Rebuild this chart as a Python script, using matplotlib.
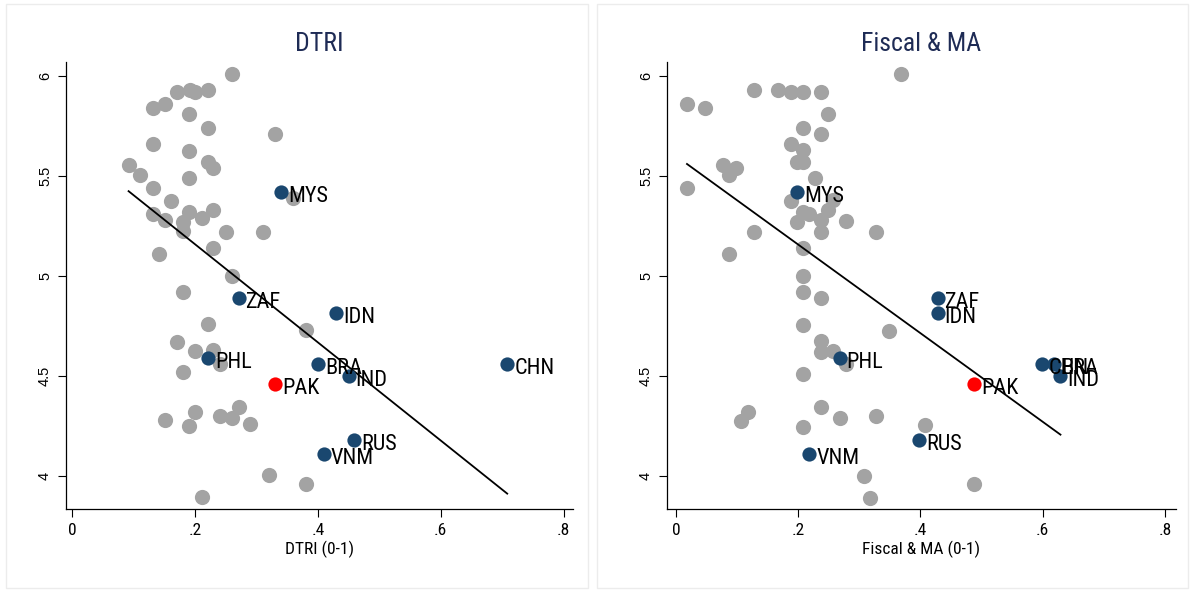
import numpy as np
import matplotlib
matplotlib.use("Agg")
import matplotlib.pyplot as plt
from matplotlib import font_manager as fm
from matplotlib.patches import Rectangle

# look for a narrow face, the Stata export uses Arial Narrow
_names = {f.name for f in fm.fontManager.ttflist}
_narrow = [n for n in ["Liberation Sans Narrow", "Roboto Condensed",
                       "Open Sans Condensed", "Noto Sans Condensed",
                       "DejaVu Sans Condensed"] if n in _names]
_cond_dejavu = any(f.name == "DejaVu Sans" and "ondensed" in f.fname
                   for f in fm.fontManager.ttflist)
if _narrow:
    NARROW = dict(family=[_narrow[0], "DejaVu Sans"])
elif _cond_dejavu:
    NARROW = dict(family=["DejaVu Sans"], stretch="condensed")
else:
    NARROW = dict(family=["Liberation Sans", "DejaVu Sans"])
REGULAR = dict(family=["Liberation Sans", "DejaVu Sans"])

# --- DTRI panel: grey countries
dtri_x = [0.260, 0.171, 0.192, 0.200, 0.221, 0.131, 0.151, 0.191, 0.221, 0.330,
          0.131, 0.191, 0.092, 0.111, 0.221, 0.230, 0.191, 0.131, 0.360, 0.161,
          0.131, 0.151, 0.191, 0.181, 0.181, 0.211, 0.230, 0.250, 0.310, 0.230,
          0.141, 0.260, 0.181, 0.221, 0.380, 0.171, 0.200, 0.230, 0.241, 0.181,
          0.151, 0.200, 0.191, 0.241, 0.260, 0.271, 0.290, 0.320, 0.380, 0.211]
dtri_y = [6.01, 5.92, 5.93, 5.92, 5.93, 5.84, 5.86, 5.81, 5.74, 5.71,
          5.66, 5.625, 5.555, 5.505, 5.57, 5.54, 5.49, 5.44, 5.39, 5.375,
          5.31, 5.28, 5.32, 5.27, 5.225, 5.29, 5.33, 5.22, 5.22, 5.14,
          5.11, 5.00, 4.92, 4.76, 4.73, 4.67, 4.625, 4.63, 4.56, 4.52,
          4.28, 4.32, 4.25, 4.30, 4.29, 4.345, 4.26, 4.005, 3.96, 3.895]

# --- Fiscal & MA panel: grey countries
fis_x = [0.368, 0.018, 0.047, 0.128, 0.167, 0.188, 0.207, 0.238, 0.248, 0.207,
         0.238, 0.188, 0.207, 0.198, 0.207, 0.077, 0.098, 0.087, 0.227, 0.018,
         0.188, 0.207, 0.218, 0.248, 0.238, 0.257, 0.198, 0.238, 0.278, 0.328,
         0.128, 0.207, 0.087, 0.207, 0.207, 0.238, 0.207, 0.348, 0.238, 0.238,
         0.257, 0.278, 0.207, 0.117, 0.107, 0.238, 0.268, 0.328, 0.207, 0.408,
         0.308, 0.318, 0.488]
fis_y = [6.01, 5.86, 5.84, 5.93, 5.93, 5.92, 5.92, 5.92, 5.81, 5.74,
         5.71, 5.66, 5.63, 5.57, 5.57, 5.555, 5.54, 5.505, 5.49, 5.44,
         5.375, 5.32, 5.31, 5.33, 5.28, 5.38, 5.27, 5.22, 5.275, 5.22,
         5.22, 5.14, 5.11, 5.00, 4.92, 4.89, 4.755, 4.725, 4.675, 4.62,
         4.625, 4.56, 4.51, 4.32, 4.275, 4.345, 4.29, 4.30, 4.245, 4.255,
         4.00, 3.89, 3.96]

# --- labelled countries
lab_names = ["MYS", "ZAF", "IDN", "PHL", "BRA", "IND", "CHN", "RUS", "VNM"]
lab_y = [5.42, 4.89, 4.815, 4.59, 4.56, 4.50, 4.56, 4.18, 4.11]
lab_dtri = [0.340, 0.271, 0.430, 0.221, 0.400, 0.450, 0.708, 0.459, 0.410]
lab_fis = [0.198, 0.428, 0.428, 0.268, 0.619, 0.629, 0.598, 0.398, 0.218]
pak_y = 4.46
pak_dtri = 0.330
pak_fis = 0.488

# fitted lines (intercept, slope)
fit_dtri = (5.65, -2.455)
fit_fis = (5.60, -2.215)

xticks = [0, 0.2, 0.4, 0.6, 0.8]
xtick_labels = ["0", ".2", ".4", ".6", ".8"]
yticks = [4, 4.5, 5, 5.5, 6]
ytick_labels = ["4", "4.5", "5", "5.5", "6"]

GREY = "#a3a3a3"
BLUE = "#1a476f"
TITLE_C = "#1e2b55"


def panel(ax, gx, gy, lx, px, fit, title, xlabel, xlim):
    ax.scatter(gx, gy, s=120, color=GREY, linewidths=0, zorder=2)
    allx = np.array(list(gx) + list(lx) + [px])
    xs = np.array([allx.min(), allx.max()])
    ax.plot(xs, fit[0] + fit[1] * xs, color="black", lw=1.3, zorder=3)
    ax.scatter(lx, lab_y, s=105, color=BLUE, linewidths=0, zorder=4)
    ax.scatter([px], [pak_y], s=105, color="#ff0000", linewidths=0, zorder=4)
    for name, x, y in zip(lab_names + ["PAK"], list(lx) + [px], lab_y + [pak_y]):
        ax.annotate(name, (x, y), xytext=(5, -3), textcoords="offset points",
                    va="center", ha="left", fontsize=16, zorder=5, **NARROW)
    ax.set_xlim(*xlim)
    ax.set_ylim(3.835, 6.07)
    ax.set_xticks(xticks)
    ax.set_xticklabels(xtick_labels, fontsize=12.5, **NARROW)
    ax.set_yticks(yticks)
    ax.set_yticklabels(ytick_labels, rotation=90, va="center",
                       fontsize=10.5, **REGULAR)
    ax.tick_params(direction="out", length=6, width=0.8, pad=4)
    for s in ["top", "right"]:
        ax.spines[s].set_visible(False)
    ax.spines["left"].set_linewidth(0.9)
    ax.spines["bottom"].set_linewidth(0.9)
    ax.set_title(title, color=TITLE_C, fontsize=18.5, pad=8, **NARROW)
    ax.set_xlabel(xlabel, fontsize=12.5, labelpad=2, **NARROW)


fig = plt.figure(figsize=(11.91, 5.92), dpi=100)
W, H = 1191, 592
ax1 = fig.add_axes([66 / W, (H - 509) / H, 507 / W, 447 / H])
ax2 = fig.add_axes([667 / W, (H - 509) / H, 509 / W, 447 / H])

panel(ax1, dtri_x, dtri_y, lab_dtri, pak_dtri, fit_dtri, "DTRI", "DTRI (0-1)",
      (-0.0098, 0.815))
panel(ax2, fis_x, fis_y, lab_fis, pak_fis, fit_fis, "Fiscal & MA",
      "Fiscal & MA (0-1)", (-0.0147, 0.818))

# faint panel frames
for x0, x1 in [(6, 588), (597, 1188)]:
    fig.add_artist(Rectangle((x0 / W, 4 / H), (x1 - x0) / W, (H - 8) / H,
                             transform=fig.transFigure, fill=False,
                             edgecolor="#ececec", lw=1))

fig.savefig("out.png", dpi=100)
